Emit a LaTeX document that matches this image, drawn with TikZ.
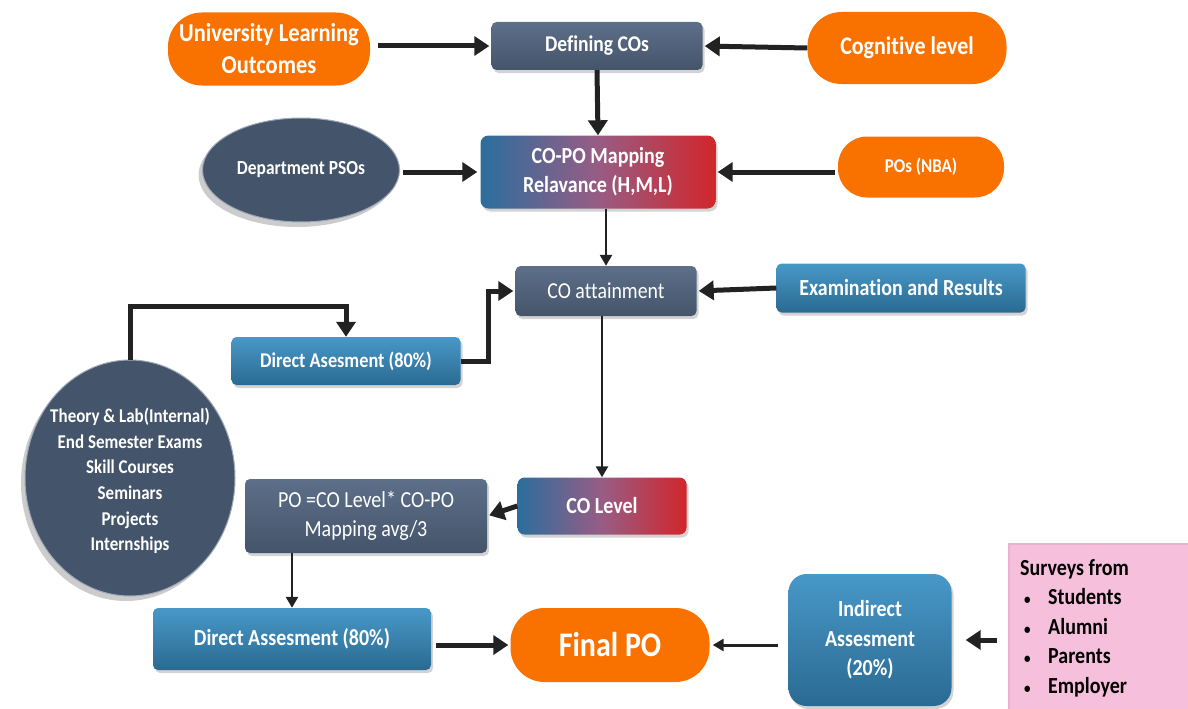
\documentclass[tikz,border=0pt]{standalone}
\usepackage{fontspec}
\setmainfont{Carlito}[FakeStretch=0.87, Ligatures=NoCommon]
\usetikzlibrary{arrows.meta,shadows,shapes.geometric,calc}

\definecolor{slate}{HTML}{44546A}
\definecolor{slatetop}{HTML}{5D6F89}
\definecolor{boxblue}{HTML}{2A6A92}
\definecolor{boxbluetop}{HTML}{4898C8}
\definecolor{orng}{HTML}{F97200}
\definecolor{gblue}{HTML}{2B6E9D}
\definecolor{gred}{HTML}{D1262B}
\definecolor{gmid}{HTML}{985C84}
\definecolor{pinkfill}{HTML}{F6C0DD}
\definecolor{pinkedge}{HTML}{EEB0D2}
\definecolor{arrowc}{HTML}{222222}

\newcommand{\fs}[2]{\fontsize{#1}{#2}\selectfont}
\newcommand{\blt}{\hspace*{4pt}\makebox[24pt][l]{\fs{15}{15}•}}

\tikzset{
  every node/.style={text=white, align=center, inner sep=2pt},
  shade/.style={drop shadow={opacity=0.35, shadow xshift=2pt, shadow yshift=-3pt}},
  slatebox/.style={rectangle, rounded corners=5pt, top color=slatetop, bottom color=slate, shade},
  bluebox/.style={rectangle, rounded corners=5pt, top color=boxbluetop, bottom color=boxblue, shade},
  mixbox/.style={rectangle, rounded corners=8pt, left color=gblue, right color=gred, middle color=gmid, shade},
  pill/.style={rectangle, fill=orng},
  darkoval/.style={ellipse, fill=slate, draw=slatetop!60!white, line width=1pt, inner sep=0pt,
    drop shadow={opacity=0.4, shadow xshift=-4pt, shadow yshift=-5pt}},
  thk/.style={draw=arrowc, line width=5pt, -{Triangle[length=15pt,width=19pt]}},
  thn/.style={draw=arrowc, line width=2.5pt, -{Triangle[length=11pt,width=12pt]}},
}

\begin{document}
\begin{tikzpicture}[x=1pt, y=-1pt]
\useasboundingbox (0,0) rectangle (1188,709);

% top row
\node[pill, rounded corners=34pt, minimum width=202pt, minimum height=73pt,
      font=\fs{25.8}{32}\bfseries] (ulo) at (269,49) {University Learning\\Outcomes};
\node[slatebox, minimum width=211pt, minimum height=48pt,
      font=\fs{22.5}{26}\bfseries] (defco) at (597,46) {Defining COs};
\node[pill, rounded corners=34pt, minimum width=199pt, minimum height=72pt,
      font=\fs{25.3}{29}\bfseries] (cog) at (907,48) {Cognitive level};

% mapping row
\node[darkoval, minimum width=197pt, minimum height=104pt,
      font=\fs{20}{23}\bfseries] (pso) at (301,170) {Department PSOs};
\node[mixbox, minimum width=235pt, minimum height=73pt,
      font=\fs{23}{29}\bfseries] (copo) at (598,172) {CO-PO Mapping\\Relavance (H,M,L)};
\node[pill, rounded corners=29pt, minimum width=166pt, minimum height=61pt,
      font=\fs{19.5}{23}\bfseries] (pos) at (921,167) {POs (NBA)};

% attainment row
\node[slatebox, minimum width=181pt, minimum height=50pt,
      font=\fs{22.8}{26}] (coatt) at (606,291) {CO attainment};
\node[bluebox, minimum width=249pt, minimum height=49pt,
      font=\fs{23}{26}\bfseries] (exam) at (901,288) {Examination and Results};
\node[bluebox, minimum width=229pt, minimum height=48pt,
      font=\fs{21}{24}\bfseries] (dir1) at (346,361) {Direct Asesment (80\%)};

% assessment sources: the oval is drawn empty, its list set on top
\node[darkoval, minimum width=210pt, minimum height=236pt] (src) at (130,478) {};
\node[font=\fs{19.5}{25.6}\bfseries] (srctext) at (130,481)
  {Theory \& Lab(Internal)\\End Semester Exams\\Skill Courses\\Seminars\\Projects\\Internships};

% level row
\node[mixbox, rounded corners=7pt, minimum width=169pt, minimum height=57pt,
      font=\fs{23}{26}\bfseries] (colevel) at (602,506) {CO Level};
\node[slatebox, minimum width=242pt, minimum height=74pt,
      font=\fs{23}{29}] (pof) at (366,516) {PO =CO Level* CO-PO\\Mapping avg/3};

% bottom row
\node[bluebox, minimum width=278pt, minimum height=62pt,
      font=\fs{23}{26}\bfseries] (dir2) at (292,639) {Direct Assesment (80\%)};
\node[pill, rounded corners=34pt, minimum width=199pt, minimum height=74pt,
      font=\fs{34.5}{38}\bfseries] (final) at (610,645) {Final PO};
\node[bluebox, rounded corners=18pt, minimum width=163pt, minimum height=132pt,
      font=\fs{23}{29.5}\bfseries] (indirect) at (870,640) {Indirect\\Assesment\\(20\%)};

% survey panel
\node[rectangle, fill=pinkfill, draw=pinkedge, line width=2pt, anchor=north west,
      minimum width=181pt, minimum height=167pt] (surveys) at (1008,543) {};
\node[anchor=north west, inner sep=0pt, text=black, align=left,
      font=\fs{23}{29.5}\bfseries] (survtext) at (1020,559)
  {Surveys from\\
   \blt Students\\
   \blt Alumni\\
   \blt Parents\\
   \blt Employer};

% connectors
\draw[thk, shorten <=8pt, shorten >=2pt] (ulo.east |- defco.west) -- (defco.west);
\draw[thk, shorten >=2pt] (cog.west) -- (defco.east);
\draw[thk] (defco.south) -- (copo.north);
\draw[thk, shorten <=3pt, shorten >=3pt] (pso.east |- copo.west) -- (copo.west);
\draw[thk, shorten <=3pt, shorten >=2pt] (pos.west |- copo.east) -- (copo.east);
\draw[thn] (copo.south -| coatt.north) -- (coatt.north);
\draw[thk, shorten >=2pt] (exam.west) -- (coatt.east);
\draw[thk, shorten >=2pt] (dir1.east) -- ++(28,0) |- (coatt.west);
\draw[thk] (src.north) -- ++(0,-53) -| (dir1.north);
\draw[thn] (coatt.south -| colevel.north) -- (colevel.north);
\draw[thk, shorten >=2pt] (colevel.west) -- (pof.east);
\draw[thn] (pof.south -| dir2.north) -- (dir2.north);
\draw[thk, shorten <=5pt, shorten >=2pt] (dir2.east |- final.west) -- (final.west);
\draw[thn, line width=3pt, shorten <=10pt, shorten >=3pt] (indirect.west |- final.east) -- (final.east);
\draw[thk, shorten <=11pt, shorten >=14pt] (surveys.west |- indirect.east) -- (indirect.east);
\end{tikzpicture}
\end{document}
